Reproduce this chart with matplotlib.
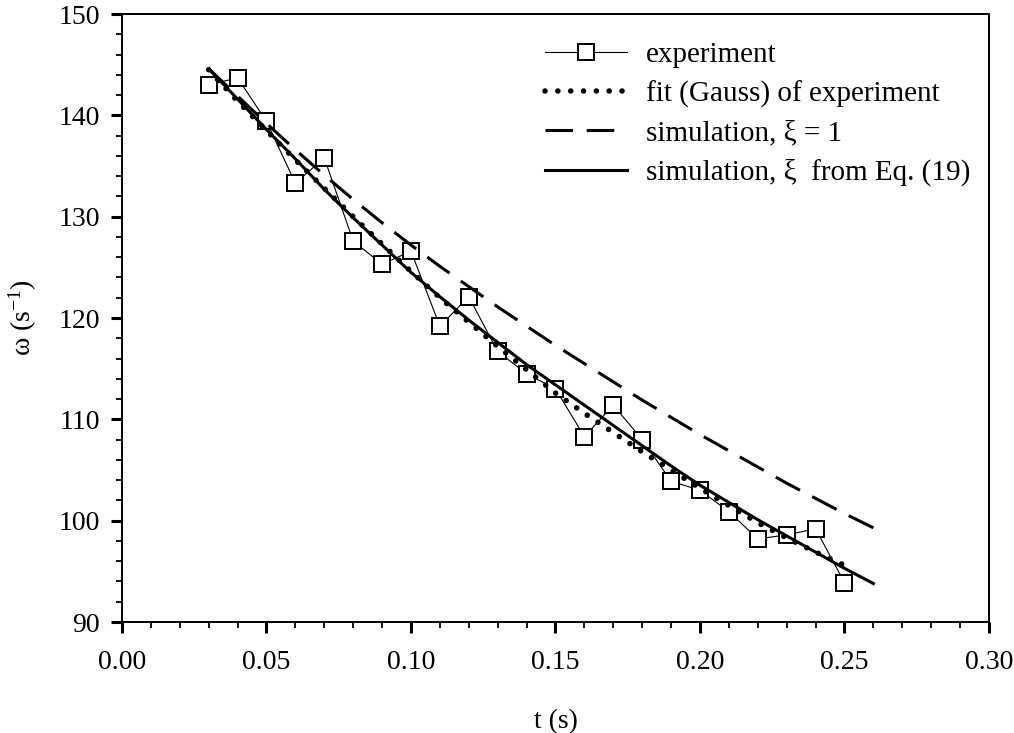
import numpy as np
import matplotlib
matplotlib.use('Agg')
import matplotlib.pyplot as plt

plt.rcParams['font.family'] = ['Liberation Serif', 'DejaVu Serif']
plt.rcParams['mathtext.fontset'] = 'custom'
plt.rcParams['mathtext.rm'] = 'Liberation Serif'
plt.rcParams['mathtext.it'] = 'Liberation Serif:italic'

# experiment points
t_exp = [0.03, 0.04, 0.05, 0.06, 0.07, 0.08, 0.09, 0.10, 0.11, 0.12, 0.13, 0.14,
         0.15, 0.16, 0.17, 0.18, 0.19, 0.20, 0.21, 0.22, 0.23, 0.24, 0.25]
w_exp = [143.0, 143.7, 139.4, 133.3, 135.8, 127.6, 125.3, 126.6, 119.2, 122.1, 116.7, 114.5,
         113.0, 108.3, 111.4, 108.0, 103.9, 103.0, 100.9, 98.2, 98.6, 99.2, 93.9]

# fit (Gauss) of experiment
t_fit = [0.03, 0.04, 0.05, 0.06, 0.07, 0.08, 0.09, 0.10, 0.11, 0.12, 0.13, 0.14,
         0.15, 0.16, 0.17, 0.18, 0.19, 0.20, 0.21, 0.22, 0.23, 0.24, 0.25]
w_fit = [144.5, 141.4, 138.5, 135.6, 132.8, 130.0, 127.3, 124.6, 122.0, 119.6, 117.2, 114.9,
         112.6, 110.6, 108.7, 106.8, 105.0, 103.2, 101.5, 99.8, 98.3, 96.9, 95.6]

# simulations
t_sim = [0.03, 0.04, 0.05, 0.06, 0.07, 0.08, 0.09, 0.10, 0.11, 0.12, 0.13, 0.14,
         0.15, 0.16, 0.17, 0.18, 0.19, 0.20, 0.21, 0.22, 0.23, 0.24, 0.25, 0.26]
w_xi1 = [144.6, 141.9, 139.2, 136.6, 134.1, 131.7, 129.4, 127.2, 125.1, 123.1, 121.1, 119.2,
         117.3, 115.5, 113.7, 111.9, 110.2, 108.5, 106.9, 105.3, 103.7, 102.2, 100.7, 99.3]
w_xi19 = [144.6, 141.6, 138.6, 135.7, 132.7, 129.9, 127.2, 124.5, 122.1, 119.8, 117.6, 115.4,
          113.4, 111.4, 109.4, 107.4, 105.4, 103.5, 101.8, 100.1, 98.5, 96.9, 95.3, 93.8]

fig = plt.figure(figsize=(10.14, 7.33), dpi=100)
ax = fig.add_axes([0.1203, 0.1514, 0.8550, 0.8295])

ax.plot(t_exp, w_exp, color='black', lw=0.8, marker='s', markersize=11.5,
        markerfacecolor='white', markeredgecolor='black', markeredgewidth=1.4,
        label='experiment', zorder=2)
ax.plot(t_fit, w_fit, color='black', lw=4.0, linestyle=(0, (0.01, 2.3)),
        dash_capstyle='round', label='fit (Gauss) of experiment', zorder=3)
ax.plot(t_sim, w_xi1, color='black', lw=2.2, linestyle=(0, (9, 4.5)),
        label='simulation, ξ = 1', zorder=3)
ax.plot(t_sim, w_xi19, color='black', lw=2.2, label='simulation, ξ  from Eq. (19)', zorder=3)

ax.set_xlim(0, 0.30)
ax.set_ylim(90, 150)
ax.set_xticks([0.00, 0.05, 0.10, 0.15, 0.20, 0.25, 0.30])
ax.set_xticklabels(['0.00', '0.05', '0.10', '0.15', '0.20', '0.25', '0.30'])
ax.set_yticks([90, 100, 110, 120, 130, 140, 150])
ax.set_xticks(np.arange(0, 0.3001, 0.01), minor=True)
ax.set_yticks(np.arange(90, 150.1, 2), minor=True)

for s in ax.spines.values():
    s.set_linewidth(1.4)
ax.tick_params(which='major', direction='out', length=8, width=2.2, labelsize=20)
ax.tick_params(which='minor', direction='out', length=4, width=1.3)
ax.tick_params(axis='x', which='major', pad=12)
ax.tick_params(axis='y', which='major', pad=8)

ax.set_xlabel('t (s)', fontsize=20, labelpad=25)
ax.set_ylabel(r'ω (s$^{\mathrm{-1}}$)', fontsize=20, labelpad=14)

ax.legend(loc='upper left', bbox_to_anchor=(0.488, 0.955), frameon=False,
          fontsize=21, handlelength=2.8, handletextpad=0.65, labelspacing=0.43,
          borderpad=0, borderaxespad=0)

fig.savefig('out.png', dpi=100)
